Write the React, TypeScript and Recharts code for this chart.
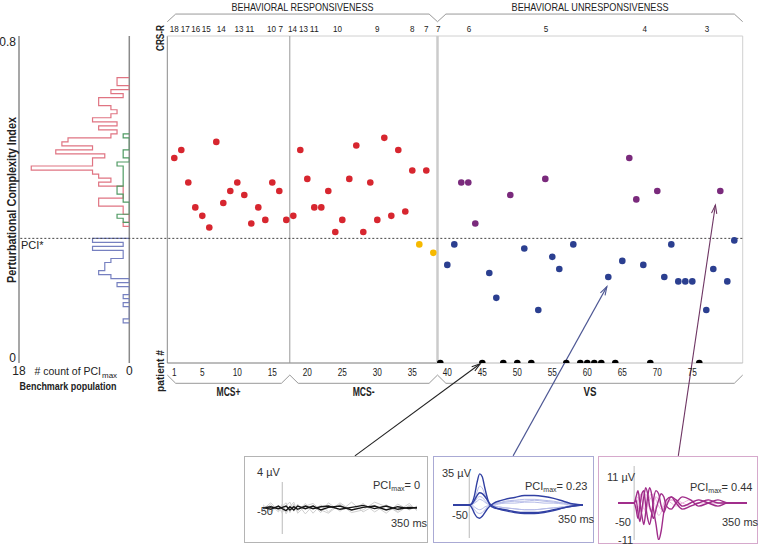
import React from 'react';
import { ComposedChart, LineChart, Line, Scatter, XAxis, YAxis, ReferenceLine } from 'recharts';

const FONT = "'Liberation Sans Narrow', 'Arial Narrow', 'Liberation Sans', Arial, sans-serif";

const PCI_STAR = 0.31;
const Y_TOP = 0.8134;
const X_MAX = 82.2;

// PCI per patient, in patient order. 0 = PCImax of 0 (black dot)
const mcsPlusPCI = [0.51, 0.53, 0.449, 0.387, 0.366, 0.337, 0.55, 0.398, 0.428, 0.449, 0.418, 0.347, 0.387, 0.356, 0.449, 0.428, 0.356];
const mcsMinusPCI = [0.366, 0.53, 0.458, 0.387, 0.387, 0.428, 0.326, 0.356, 0.458, 0.541, 0.326, 0.449, 0.356, 0.56, 0.366, 0.53, 0.377, 0.479, 0.295, 0.479, 0.274];
const vsPCI = [0, 0.244, 0.295, 0.449, 0.449, 0.347, 0, 0.224, 0.162, 0, 0.418, 0, 0.285, 0, 0.132, 0.458, 0.264, 0.234, 0, 0.295, 0, 0, 0, 0, 0.214, 0, 0.254, 0.51, 0.407, 0.244, 0, 0.428, 0.214, 0.295, 0.203, 0.203, 0.203, 0, 0.132, 0.234, 0.428, 0.203, 0.305];

const patientTicks = [1, 5, 10, 15, 20, 25, 30, 35, 40, 45, 50, 55, 60, 65, 70, 75];

// CRS-R total score, written where it changes along the patient axis
const crsScores = [18, 17, 16, 15, 14, 13, 11, 10, 7, 14, 13, 11, 10, 9, 8, 7, 7, 6, 5, 4, 3];
const crsAt = [1, 2.55, 4.05, 5.55, 7.7, 10.25, 11.8, 14.9, 16.2, 17.9, 19.45, 21.0, 24.3, 30, 35, 37, 38.7, 43.1, 54.1, 68.2, 77.1];

// benchmark histogram: [bin lower edge, count], bin width 0.01
const histRed: [number, number][] = [
  [0.34, 1], [0.35, 0], [0.36, 0], [0.37, 1], [0.38, 1], [0.39, 5], [0.40, 5], [0.41, 1], [0.42, 1], [0.43, 1],
  [0.44, 5], [0.45, 3], [0.46, 5], [0.47, 6], [0.48, 16], [0.49, 6], [0.50, 6], [0.51, 4], [0.52, 12], [0.53, 6],
  [0.54, 11], [0.55, 10], [0.56, 3], [0.57, 2], [0.58, 5], [0.59, 2], [0.60, 6], [0.61, 3], [0.62, 2], [0.63, 3],
  [0.64, 5], [0.65, 5], [0.66, 1], [0.67, 3], [0.68, 0], [0.69, 2], [0.70, 2],
];
const histGreen: [number, number][] = [
  [0.35, 1], [0.36, 2], [0.37, 0], [0.38, 0], [0.39, 0], [0.40, 1], [0.41, 1], [0.42, 2], [0.43, 2], [0.44, 1],
  [0.45, 1], [0.46, 1], [0.47, 1], [0.48, 1], [0.49, 2], [0.50, 0], [0.51, 1], [0.52, 1], [0.53, 0], [0.54, 0],
  [0.55, 0], [0.56, 1],
];
const histBlue: [number, number][] = [
  [0.10, 1], [0.11, 0], [0.12, 0], [0.13, 0], [0.14, 1], [0.15, 0], [0.16, 1], [0.17, 0], [0.18, 0], [0.19, 2],
  [0.20, 0], [0.21, 3], [0.22, 5], [0.23, 4], [0.24, 4], [0.25, 3], [0.26, 1], [0.27, 1], [0.28, 6], [0.29, 1],
  [0.30, 6],
];

// example TMS-evoked potentials (ms, µV)
const t1 = [-50, -30, -10, 0, 10, 20, 30, 40, 60, 80, 100, 120, 150, 180, 210, 240, 270, 300, 330, 350];
const eegBlack = [
  [0, 0.2, -0.1, 0.1, 0.3, -0.3, 0.2, -0.2, 0.3, -0.1, 0.2, 0.3, -0.2, 0.1, 0.4, -0.1, 0.3, -0.2, 0.1, 0],
  [0.1, -0.2, 0.3, -0.1, -0.4, 0.2, -0.3, 0.3, -0.1, 0.3, -0.3, 0.1, 0.3, -0.3, 0.1, 0.3, -0.3, 0.2, -0.1, 0.1],
];
const eegGrey = [
  [-0.4, 0.5, -0.6, 0.3, 0.8, -0.7, 0.6, -0.5, 0.7, -0.8, 0.5, -0.6, 0.8, -0.4, 0.7, -0.6, 0.5, -0.7, 0.4, -0.2],
  [0.5, -0.6, 0.3, -0.8, 0.4, 0.9, -0.5, 0.6, -0.9, 0.4, -0.7, 0.8, -0.5, 0.9, -0.6, 0.4, -0.8, 0.6, -0.3, 0.3],
  [-0.2, 0.8, -0.4, 0.6, -0.9, 0.2, 0.9, -0.8, 0.3, 0.7, -0.3, -0.8, 0.6, -0.7, -0.3, 0.9, 0.2, -0.5, 0.7, -0.4],
];

const t2 = [-50, -20, 0, 8, 16, 24, 32, 40, 48, 56, 64, 76, 90, 110, 140, 170, 200, 230, 260, 290, 320, 350];
const eegBlueBold = [
  [0, 0, 0, 2, 10, 24, 33, 30, 18, 7, 0, -3, -4, -5, -7, -8, -8, -7, -5, -3, -1, 0],
  [0, 0, 0, -3, -9, -13, -14, -12, -8, -4, -1, 2, 4, 6, 8, 10, 10, 9, 7, 4, 1, 0],
  [0, 0, 0, 1, 5, 10, 13, 12, 9, 5, 1, -2, -4, -6, -8, -9, -9, -8, -6, -3, -1, 0],
];
const eegBlueLight = [
  [0, 0, 0, 1, 6, 14, 20, 18, 11, 4, 0, -1, -2, -3, -4, -5, -5, -4, -3, -2, -1, 0],
  [0, 0, 0, -1, -5, -8, -9, -8, -5, -2, 0, 1, 2, 4, 5, 6, 6, 5, 4, 2, 1, 0],
  [0, 0, 0, 0, 3, 7, 9, 8, 5, 2, 0, -1, -2, -3, -4, -5, -5, -4, -3, -2, 0, 0],
  [0, 0, 0, 0, -2, -4, -5, -4, -2, -1, 0, 1, 2, 3, 4, 4, 5, 4, 3, 2, 1, 0],
  [0, 0, 0, 1, 2, 4, 6, 5, 3, 1, 0, 0, 1, 2, 2, 3, 3, 2, 2, 1, 0, 0],
];

const t3 = [-50, -20, 0, 6, 12, 18, 24, 30, 36, 42, 48, 54, 60, 68, 76, 84, 92, 100, 115, 130, 150, 175, 200, 230, 260, 290, 320, 350];
const eegPurpleBold = [
  [0, 0, 0, -2, -5, -1, 3, 4, -1, -5, -7, -4, 1, 4, 3, -1, -3, -1, 2, 1, -1, 0, 1, 0, -1, 0, 0, 0],
  [0, 0, 0, 2, 4, 0, -4, -7, -3, 2, 5, 3, -2, -7, -12, -9, -3, 1, 2, 0, -2, -1, 0, 1, 0, 0, 0, 0],
  [0, 0, 0, 1, -3, -6, -2, 2, 5, 3, -1, -3, -5, -2, 1, 3, 2, -1, -2, 0, 2, 1, -1, 0, 1, 0, 0, 0],
];
const eegPurpleLight = [
  [0, 0, 0, 1, 2, -2, -3, 1, 3, 1, -2, -3, 0, 2, 1, -1, -2, 0, 1, 1, 0, -1, 0, 1, 0, 0, 0, 0],
  [0, 0, 0, -1, -2, 2, 3, -1, -3, -1, 2, 3, 1, -2, -4, -3, 0, 1, 0, -1, 0, 1, 0, 0, 0, 0, 0, 0],
  [0, 0, 0, 0, 1, 3, 1, -2, -2, 0, 1, 2, 3, 1, -1, -2, -1, 0, 1, 0, -1, 0, 1, 0, 0, 0, 0, 0],
];

// group boundaries on the patient axis
const edgeMcs = 17.5;
const edgeVs = 38.6;

// arrows from the example boxes up to the patients
const arrowLinks = [
  { from: [26.8, -0.231], to: [44.7, -0.002], color: '#222' },
  { from: [49.4, -0.231], to: [62.8, 0.19], color: '#4d5794' },
  { from: [73.0, -0.231], to: [78.3, 0.393], color: '#6e3563' },
];

const mcsPts = [...mcsPlusPCI, ...mcsMinusPCI].map((pci, i) => ({ p: i + 1, pci }));
const vsPts = vsPCI.map((pci, i) => ({ p: i + 1 + mcsPts.length, pci }));
const redPts = mcsPts.filter((d) => d.pci > PCI_STAR);
const yellowPts = mcsPts.filter((d) => d.pci <= PCI_STAR);
const purplePts = vsPts.filter((d) => d.pci > PCI_STAR);
const bluePts = vsPts.filter((d) => d.pci > 0 && d.pci <= PCI_STAR);
const blackPts = vsPts.filter((d) => d.pci === 0);

const toSteps = (bins: [number, number][]) => {
  const pts = [{ pci: bins[0][0], n: 0 }];
  bins.forEach(([e, n]) => pts.push({ pci: e, n }));
  pts.push({ pci: bins[bins.length - 1][0] + 0.01, n: 0 });
  return pts;
};

const dot = (fill: string) => (props: any) => <circle cx={props.cx} cy={props.cy} r={3.3} fill={fill} />;

// narrow tick text (the source uses a condensed face)
const narrowTick = (labels: (i: number, v: number) => string, dy: number, w: number, size: number) => (props: any) => {
  const s = labels(props.index, props.payload.value);
  return (
    <text x={props.x} y={props.y} dy={dy} textAnchor="middle" fontFamily={FONT} fontSize={size} fill="#222"
      textLength={s.length * w} lengthAdjust="spacingAndGlyphs">{s}</text>
  );
};

const braceLabel = (label: string, dy: number, bold: boolean, len: number, color = '#999') => (p: any) => (
  <g>
    <line x1={p.x1} y1={p.y1} x2={p.x2} y2={p.y2} stroke={color} strokeWidth={1} />
    <text x={(p.x1 + p.x2) / 2} y={p.y1 + dy} textAnchor="middle" fontFamily={FONT} fontSize={bold ? 12 : 11}
      fontWeight={bold ? 'bold' : 'normal'} fill="#222" textLength={len} lengthAdjust="spacingAndGlyphs">{label}</text>
  </g>
);

const arrowShape = (color: string) => (p: any) => {
  const a = Math.atan2(p.y2 - p.y1, p.x2 - p.x1);
  const h = 9;
  const l = [p.x2 - h * Math.cos(a - 0.3), p.y2 - h * Math.sin(a - 0.3)];
  const r = [p.x2 - h * Math.cos(a + 0.3), p.y2 - h * Math.sin(a + 0.3)];
  return (
    <g>
      <line x1={p.x1} y1={p.y1} x2={p.x2} y2={p.y2} stroke={color} strokeWidth={1.1} />
      <polyline points={`${l[0]},${l[1]} ${p.x2},${p.y2} ${r[0]},${r[1]}`} fill="none" stroke={color} strokeWidth={1.1} />
    </g>
  );
};

const braces = [
  { a: 0, b: edgeVs, bar: 0.868, tip: 0.849, label: 'BEHAVIORAL RESPONSIVENESS', dy: -3.5, bold: false, len: 142 },
  { a: edgeVs, b: X_MAX, bar: 0.868, tip: 0.849, label: 'BEHAVIORAL UNRESPONSIVENESS', dy: -3.5, bold: false, len: 157 },
  { a: 0, b: edgeMcs, bar: -0.0505, tip: -0.03, label: 'MCS+', dy: 13, bold: true, len: 24 },
  { a: edgeMcs, b: edgeVs, bar: -0.0505, tip: -0.03, label: 'MCS-', dy: 13, bold: true, len: 22 },
  { a: edgeVs, b: X_MAX, bar: -0.0505, tip: -0.03, label: 'VS', dy: 13, bold: true, len: 13 },
];

const histYTick = (props: any) => (
  <text x={props.x} y={props.y} dy={props.payload.value === 0 ? -1.5 : 4.5} textAnchor="end" fontFamily={FONT} fontSize={12} fill="#222">
    {props.payload.value}
  </text>
);

const Sub = ({ children }: { children: React.ReactNode }) => (
  <sub style={{ fontSize: 7, verticalAlign: '-2px', lineHeight: 0 }}>{children}</sub>
);

const Inset = ({ left, top, width, height, border, margin, yDomain, time, bold, light, boldColor, lightColor, curve, children }: any) => {
  const rows = time.map((t: number, i: number) => {
    const r: any = { t };
    bold.forEach((s: number[], k: number) => { r['b' + k] = s[i]; });
    light.forEach((s: number[], k: number) => { r['l' + k] = s[i]; });
    return r;
  });
  return (
    <div style={{ position: 'absolute', left, top, width, height, border: `1px solid ${border}`, boxSizing: 'border-box', background: '#fff', fontFamily: FONT, fontSize: 11, color: '#333' }}>
      <LineChart width={width - 2} height={height - 2} margin={margin} data={rows}>
        <XAxis dataKey="t" type="number" domain={[-50, 350]} hide />
        <YAxis type="number" domain={yDomain} hide allowDataOverflow />
        <ReferenceLine x={0} stroke="#bbb" strokeWidth={1} />
        {light.map((_: any, k: number) => (
          <Line key={'l' + k} dataKey={'l' + k} type={curve} stroke={lightColor} strokeWidth={1} dot={false} isAnimationActive={false} />
        ))}
        {bold.map((_: any, k: number) => (
          <Line key={'b' + k} dataKey={'b' + k} type={curve} stroke={boldColor} strokeWidth={1.4} dot={false} isAnimationActive={false} />
        ))}
      </LineChart>
      {children}
    </div>
  );
};

const Txt = ({ left, top, children }: any) => (
  <span style={{ position: 'absolute', left, top, whiteSpace: 'nowrap', lineHeight: '12px' }}>{children}</span>
);

export default function App() {
  return (
    <div style={{ position: 'absolute', left: 0, top: 0, width: 760, height: 553, background: '#fff', overflow: 'hidden', fontFamily: FONT }}>
      {/* benchmark histogram */}
      <div style={{ position: 'absolute', left: 0, top: 0 }}>
        <ComposedChart layout="vertical" width={160} height={553} margin={{ top: 36, right: 30.7, bottom: 189, left: 0 }}>
          <XAxis type="number" domain={[0, 18]} reversed ticks={[18, 0]} interval={0} height={1} axisLine={false}
            tickLine={false} tickSize={2} tickMargin={1.5} tick={{ fontSize: 12, fill: '#222', fontFamily: FONT }} allowDataOverflow />
          <YAxis type="number" dataKey="pci" domain={[0, Y_TOP]} reversed ticks={[0, 0.8]} interval={0} width={19}
            axisLine={{ stroke: '#8a8a8a', strokeWidth: 1.5 }} tickLine={false} tickSize={2} tickMargin={1} tick={histYTick} allowDataOverflow />
          <ReferenceLine x={0} stroke="#8a8a8a" strokeWidth={1.5} />
          <Line data={toSteps(histRed)} dataKey="n" type="stepBefore" stroke="#e07482" strokeWidth={1.2} dot={false} isAnimationActive={false} />
          <Line data={toSteps(histGreen)} dataKey="n" type="stepBefore" stroke="#4f9a63" strokeWidth={1.2} dot={false} isAnimationActive={false} />
          <Line data={toSteps(histBlue)} dataKey="n" type="stepBefore" stroke="#7680c0" strokeWidth={1.2} dot={false} isAnimationActive={false} />
        </ComposedChart>
      </div>

      {/* patients */}
      <div style={{ position: 'absolute', left: 0, top: 0 }}>
        <ComposedChart width={760} height={553} margin={{ top: 35, right: 760 - 742.7, bottom: 189, left: 167.3 }}>
          <XAxis type="number" dataKey="p" domain={[0, X_MAX]} ticks={patientTicks} interval={0} height={1}
            axisLine={false} tickLine={false} tickSize={3} tickMargin={2}
            tick={narrowTick((_i, v) => String(v), 8, 4.6, 11)} allowDataOverflow />
          <XAxis xAxisId="crs" orientation="top" type="number" dataKey="p" domain={[0, X_MAX]} ticks={crsAt} interval={0} height={1}
            axisLine={false} tickLine={false} tickSize={3} tickMargin={1}
            tick={narrowTick((i) => String(crsScores[i]), 0, 4.5, 9.5)} allowDataOverflow />
          <YAxis type="number" dataKey="pci" domain={[0, Y_TOP]} hide allowDataOverflow />

          {/* frame */}
          <ReferenceLine segment={[{ x: 0, y: 0 }, { x: 0, y: Y_TOP }]} stroke="#8a8a8a" />
          <ReferenceLine segment={[{ x: 0, y: Y_TOP }, { x: X_MAX, y: Y_TOP }]} stroke="#d0d0d0" />
          <ReferenceLine segment={[{ x: X_MAX, y: 0 }, { x: X_MAX, y: Y_TOP }]} stroke="#d0d0d0" />
          <ReferenceLine segment={[{ x: 0, y: 0 }, { x: edgeVs, y: 0 }]} stroke="#7a7a7a" />
          <ReferenceLine segment={[{ x: edgeVs, y: 0 }, { x: X_MAX, y: 0 }]} stroke="#b8b8b8" />
          <ReferenceLine segment={[{ x: edgeMcs, y: 0 }, { x: edgeMcs, y: Y_TOP }]} stroke="#999" />
          <ReferenceLine segment={[{ x: edgeVs, y: 0 }, { x: edgeVs, y: Y_TOP }]} stroke="#cbcbcb" strokeWidth={2.5} />

          {/* PCI* threshold, across the histogram too */}
          <ReferenceLine segment={[{ x: -21, y: PCI_STAR }, { x: X_MAX, y: PCI_STAR }]} ifOverflow="visible"
            stroke="#444" strokeDasharray="2 2" />

          {braces.flatMap((b, i) => [
            <ReferenceLine key={`bl${i}`} segment={[{ x: b.a, y: b.tip }, { x: b.a + 1.2, y: b.bar }]} ifOverflow="visible" stroke="#999" />,
            <ReferenceLine key={`bm${i}`} segment={[{ x: b.a + 1.2, y: b.bar }, { x: b.b - 1.2, y: b.bar }]} ifOverflow="visible"
              shape={braceLabel(b.label, b.dy, b.bold, b.len)} />,
            <ReferenceLine key={`br${i}`} segment={[{ x: b.b - 1.2, y: b.bar }, { x: b.b, y: b.tip }]} ifOverflow="visible" stroke="#999" />,
          ])}

          {arrowLinks.map((l, i) => (
            <ReferenceLine key={`ar${i}`} segment={[{ x: l.from[0], y: l.from[1] }, { x: l.to[0], y: l.to[1] }]}
              ifOverflow="visible" shape={arrowShape(l.color)} />
          ))}

          <Scatter data={redPts} shape={dot('#d7262f')} isAnimationActive={false} />
          <Scatter data={yellowPts} shape={dot('#f6b900')} isAnimationActive={false} />
          <Scatter data={purplePts} shape={dot('#7a2a7c')} isAnimationActive={false} />
          <Scatter data={bluePts} shape={dot('#2b3f90')} isAnimationActive={false} />
          {/* black dots share the top (CRS-R) axis, which has the same patient scale */}
          <Scatter data={blackPts} xAxisId="crs" shape={dot('#000')} isAnimationActive={false} />
        </ComposedChart>
      </div>

      {/* static titles */}
      <svg width={760} height={553} style={{ position: 'absolute', left: 0, top: 0, pointerEvents: 'none' }} fontFamily={FONT}>
        <text transform="translate(15.5,200) rotate(-90)" textAnchor="middle" fontSize={13} fontWeight="bold" fill="#222"
          textLength={166} lengthAdjust="spacingAndGlyphs">Perturbational Complexity Index</text>
        <text x={21} y={249} fontSize={11} fill="#222">PCI*</text>
        <text x={101} y={375} fontSize={10.5} textAnchor="end" fill="#222"># count of PCI</text>
        <text x={102} y={378} fontSize={8} fill="#222">max</text>
        <text x={68} y={390} fontSize={11} fontWeight="bold" textAnchor="middle" fill="#222" textLength={97}
          lengthAdjust="spacingAndGlyphs">Benchmark population</text>
        <text transform="translate(163.5,38) rotate(-90)" textAnchor="middle" fontSize={10.5} fontWeight="bold" fill="#222"
          textLength={26} lengthAdjust="spacingAndGlyphs">CRS-R</text>
        <text transform="translate(163.5,371) rotate(-90)" textAnchor="middle" fontSize={10.5} fontWeight="bold" fill="#222"
          textLength={42} lengthAdjust="spacingAndGlyphs">patient #</text>
      </svg>

      <Inset left={244} top={456} width={184} height={87} border="#b4b4b4" margin={{ top: 25, right: 10, bottom: 8, left: 18 }}
        yDomain={[-4, 4]} time={t1} bold={eegBlack} light={eegGrey} boldColor="#151515" lightColor="#cfcfcf" curve="linear">
        <Txt left={12} top={9}>4 µV</Txt>
        <Txt left={12} top={48}>-50</Txt>
        <Txt left={128} top={22}>PCI<Sub>max</Sub>= 0</Txt>
        <Txt left={146} top={60}>350 ms</Txt>
      </Inset>
      <Inset left={433} top={456} width={161} height={87} border="#aaaad4" margin={{ top: 15, right: 10, bottom: 4, left: 19 }}
        yDomain={[-35, 35]} time={t2} bold={eegBlueBold} light={eegBlueLight} boldColor="#3140a3" lightColor="#b6bce8" curve="monotone">
        <Txt left={8} top={10}>35 µV</Txt>
        <Txt left={18} top={52}>-50</Txt>
        <Txt left={91} top={23}>PCI<Sub>max</Sub>= 0.23</Txt>
        <Txt left={124} top={56}>350 ms</Txt>
      </Inset>
      <Inset left={598} top={456} width={160} height={88} border="#d6a9cc" margin={{ top: 9, right: 10, bottom: 3, left: 19 }}
        yDomain={[-12, 12]} time={t3} bold={eegPurpleBold} light={eegPurpleLight} boldColor="#a02c8a" lightColor="#ebb4dd" curve="monotone">
        <Txt left={8} top={14}>11 µV</Txt>
        <Txt left={16} top={59}>-50</Txt>
        <Txt left={19} top={77}>-11</Txt>
        <Txt left={91} top={24}>PCI<Sub>max</Sub>= 0.44</Txt>
        <Txt left={123} top={59}>350 ms</Txt>
      </Inset>
    </div>
  );
}
